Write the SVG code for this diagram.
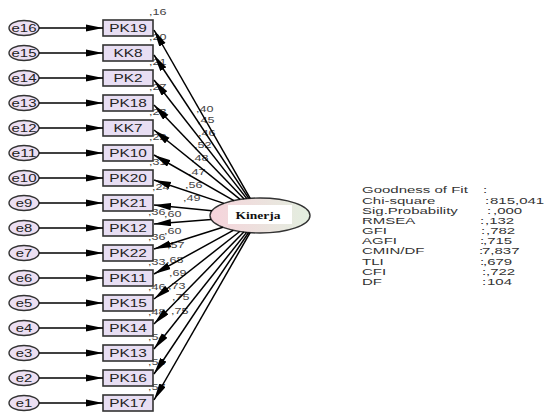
<svg xmlns="http://www.w3.org/2000/svg" width="546" height="412" viewBox="0 0 546 412">
<defs>
<marker id="ah" markerUnits="userSpaceOnUse" markerWidth="18" markerHeight="9" refX="17" refY="3.6" orient="auto"><path d="M0,0 L17,3.6 L0,7.2 z" fill="#000"/></marker>
<linearGradient id="kg" x1="0" y1="0" x2="1" y2="0"><stop offset="0" stop-color="#f6d3db"/><stop offset="1" stop-color="#e3efe0"/></linearGradient>
</defs>
<style>
.bx{fill:#e8def3;stroke:#333;stroke-width:1.6}
.ev{fill:#ecdff2;stroke:#333;stroke-width:1.4}
.bl{font-family:"Liberation Sans",Arial,sans-serif;font-size:11px;fill:#222;text-anchor:middle}
.el{font-family:"Liberation Sans",Arial,sans-serif;font-size:10px;fill:#222;text-anchor:middle}
.sm{font-family:"Liberation Sans",Arial,sans-serif;font-size:9px;fill:#444}
.ft{font-family:"Liberation Sans",Arial,sans-serif;font-size:9px;fill:#333}
.ln{stroke:#000;stroke-width:1.5;fill:none;marker-end:url(#ah)}
</style>
<rect width="546" height="412" fill="#fff"/>
<g id="n-PK19"><ellipse class="ev" cx="24" cy="28" rx="15" ry="7.5"/><text class="el" x="24" y="31.5" textLength="25" lengthAdjust="spacingAndGlyphs">e16</text><rect class="bx" x="103" y="20" width="50" height="16"/><text class="bl" x="128" y="32" textLength="37.7" lengthAdjust="spacingAndGlyphs">PK19</text><text class="sm" x="149" y="15" textLength="17.5" lengthAdjust="spacingAndGlyphs">,16</text></g>
<g id="n-KK8"><ellipse class="ev" cx="24" cy="53" rx="15" ry="7.5"/><text class="el" x="24" y="56.5" textLength="25" lengthAdjust="spacingAndGlyphs">e15</text><rect class="bx" x="103" y="45" width="50" height="16"/><text class="bl" x="128" y="57" textLength="29.1" lengthAdjust="spacingAndGlyphs">KK8</text><text class="sm" x="149" y="40" textLength="17.5" lengthAdjust="spacingAndGlyphs">,20</text></g>
<g id="n-PK2"><ellipse class="ev" cx="24" cy="78" rx="15" ry="7.5"/><text class="el" x="24" y="81.5" textLength="25" lengthAdjust="spacingAndGlyphs">e14</text><rect class="bx" x="103" y="70" width="50" height="16"/><text class="bl" x="128" y="82" textLength="29.1" lengthAdjust="spacingAndGlyphs">PK2</text><text class="sm" x="149" y="65" textLength="17.5" lengthAdjust="spacingAndGlyphs">,21</text></g>
<g id="n-PK18"><ellipse class="ev" cx="24" cy="103" rx="15" ry="7.5"/><text class="el" x="24" y="106.5" textLength="25" lengthAdjust="spacingAndGlyphs">e13</text><rect class="bx" x="103" y="95" width="50" height="16"/><text class="bl" x="128" y="107" textLength="37.7" lengthAdjust="spacingAndGlyphs">PK18</text><text class="sm" x="149" y="90" textLength="17.5" lengthAdjust="spacingAndGlyphs">,27</text></g>
<g id="n-KK7"><ellipse class="ev" cx="24" cy="128" rx="15" ry="7.5"/><text class="el" x="24" y="131.5" textLength="25" lengthAdjust="spacingAndGlyphs">e12</text><rect class="bx" x="103" y="120" width="50" height="16"/><text class="bl" x="128" y="132" textLength="29.1" lengthAdjust="spacingAndGlyphs">KK7</text><text class="sm" x="149" y="115" textLength="17.5" lengthAdjust="spacingAndGlyphs">,23</text></g>
<g id="n-PK10"><ellipse class="ev" cx="24" cy="153" rx="15" ry="7.5"/><text class="el" x="24" y="156.5" textLength="25" lengthAdjust="spacingAndGlyphs">e11</text><rect class="bx" x="103" y="145" width="50" height="16"/><text class="bl" x="128" y="157" textLength="37.7" lengthAdjust="spacingAndGlyphs">PK10</text><text class="sm" x="149" y="140" textLength="17.5" lengthAdjust="spacingAndGlyphs">,22</text></g>
<g id="n-PK20"><ellipse class="ev" cx="24" cy="178" rx="15" ry="7.5"/><text class="el" x="24" y="181.5" textLength="25" lengthAdjust="spacingAndGlyphs">e10</text><rect class="bx" x="103" y="170" width="50" height="16"/><text class="bl" x="128" y="182" textLength="37.7" lengthAdjust="spacingAndGlyphs">PK20</text><text class="sm" x="149" y="165" textLength="17.5" lengthAdjust="spacingAndGlyphs">,31</text></g>
<g id="n-PK21"><ellipse class="ev" cx="24" cy="203" rx="15" ry="7.5"/><text class="el" x="24" y="206.5" textLength="16.5" lengthAdjust="spacingAndGlyphs">e9</text><rect class="bx" x="103" y="195" width="50" height="16"/><text class="bl" x="128" y="207" textLength="37.7" lengthAdjust="spacingAndGlyphs">PK21</text><text class="sm" x="152" y="190" textLength="17.5" lengthAdjust="spacingAndGlyphs">,24</text></g>
<g id="n-PK12"><ellipse class="ev" cx="24" cy="228" rx="15" ry="7.5"/><text class="el" x="24" y="231.5" textLength="16.5" lengthAdjust="spacingAndGlyphs">e8</text><rect class="bx" x="103" y="220" width="50" height="16"/><text class="bl" x="128" y="232" textLength="37.7" lengthAdjust="spacingAndGlyphs">PK12</text><text class="sm" x="148" y="215" textLength="17.5" lengthAdjust="spacingAndGlyphs">,36</text></g>
<g id="n-PK22"><ellipse class="ev" cx="24" cy="253" rx="15" ry="7.5"/><text class="el" x="24" y="256.5" textLength="16.5" lengthAdjust="spacingAndGlyphs">e7</text><rect class="bx" x="103" y="245" width="50" height="16"/><text class="bl" x="128" y="257" textLength="37.7" lengthAdjust="spacingAndGlyphs">PK22</text><text class="sm" x="148" y="240" textLength="17.5" lengthAdjust="spacingAndGlyphs">,36</text></g>
<g id="n-PK11"><ellipse class="ev" cx="24" cy="278" rx="15" ry="7.5"/><text class="el" x="24" y="281.5" textLength="16.5" lengthAdjust="spacingAndGlyphs">e6</text><rect class="bx" x="103" y="270" width="50" height="16"/><text class="bl" x="128" y="282" textLength="37.7" lengthAdjust="spacingAndGlyphs">PK11</text><text class="sm" x="148" y="265" textLength="17.5" lengthAdjust="spacingAndGlyphs">,33</text></g>
<g id="n-PK15"><ellipse class="ev" cx="24" cy="303" rx="15" ry="7.5"/><text class="el" x="24" y="306.5" textLength="16.5" lengthAdjust="spacingAndGlyphs">e5</text><rect class="bx" x="103" y="295" width="50" height="16"/><text class="bl" x="128" y="307" textLength="37.7" lengthAdjust="spacingAndGlyphs">PK15</text><text class="sm" x="148" y="290" textLength="17.5" lengthAdjust="spacingAndGlyphs">,46</text></g>
<g id="n-PK14"><ellipse class="ev" cx="24" cy="328" rx="15" ry="7.5"/><text class="el" x="24" y="331.5" textLength="16.5" lengthAdjust="spacingAndGlyphs">e4</text><rect class="bx" x="103" y="320" width="50" height="16"/><text class="bl" x="128" y="332" textLength="37.7" lengthAdjust="spacingAndGlyphs">PK14</text><text class="sm" x="148" y="315" textLength="17.5" lengthAdjust="spacingAndGlyphs">,48</text></g>
<g id="n-PK13"><ellipse class="ev" cx="24" cy="353" rx="15" ry="7.5"/><text class="el" x="24" y="356.5" textLength="16.5" lengthAdjust="spacingAndGlyphs">e3</text><rect class="bx" x="103" y="345" width="50" height="16"/><text class="bl" x="128" y="357" textLength="37.7" lengthAdjust="spacingAndGlyphs">PK13</text><text class="sm" x="148" y="340" textLength="17.5" lengthAdjust="spacingAndGlyphs">,54</text></g>
<g id="n-PK16"><ellipse class="ev" cx="24" cy="378" rx="15" ry="7.5"/><text class="el" x="24" y="381.5" textLength="16.5" lengthAdjust="spacingAndGlyphs">e2</text><rect class="bx" x="103" y="370" width="50" height="16"/><text class="bl" x="128" y="382" textLength="37.7" lengthAdjust="spacingAndGlyphs">PK16</text><text class="sm" x="148" y="365" textLength="17.5" lengthAdjust="spacingAndGlyphs">,56</text></g>
<g id="n-PK17"><ellipse class="ev" cx="24" cy="403" rx="15" ry="7.5"/><text class="el" x="24" y="406.5" textLength="16.5" lengthAdjust="spacingAndGlyphs">e1</text><rect class="bx" x="103" y="395" width="50" height="16"/><text class="bl" x="128" y="407" textLength="37.7" lengthAdjust="spacingAndGlyphs">PK17</text><text class="sm" x="148" y="390" textLength="17.5" lengthAdjust="spacingAndGlyphs">,57</text></g>
<g id="n-Kinerja"><ellipse cx="260" cy="215.5" rx="50" ry="17.5" fill="url(#kg)" stroke="#333" stroke-width="1.4"/><rect x="228" y="205" width="64" height="19" fill="#fff"/><text x="258" y="219" font-family="'Liberation Serif','Times New Roman',serif" font-weight="bold" font-size="10" fill="#111" text-anchor="middle" textLength="45" lengthAdjust="spacingAndGlyphs">Kinerja</text></g>
<g id="loadings" class="sm">
<text x="196" y="112" textLength="17.5" lengthAdjust="spacingAndGlyphs">,40</text>
<text x="197" y="123" textLength="17.5" lengthAdjust="spacingAndGlyphs">,45</text>
<text x="198" y="136" textLength="17.5" lengthAdjust="spacingAndGlyphs">,46</text>
<text x="194" y="148" textLength="17.5" lengthAdjust="spacingAndGlyphs">,52</text>
<text x="191" y="161" textLength="17.5" lengthAdjust="spacingAndGlyphs">,48</text>
<text x="188" y="175" textLength="17.5" lengthAdjust="spacingAndGlyphs">,47</text>
<text x="185" y="188" textLength="17.5" lengthAdjust="spacingAndGlyphs">,56</text>
<text x="183" y="201" textLength="17.5" lengthAdjust="spacingAndGlyphs">,49</text>
<text x="164" y="217" textLength="17.5" lengthAdjust="spacingAndGlyphs">,60</text>
<text x="164" y="234" textLength="17.5" lengthAdjust="spacingAndGlyphs">,60</text>
<text x="167" y="248" textLength="17.5" lengthAdjust="spacingAndGlyphs">,57</text>
<text x="166" y="263" textLength="17.5" lengthAdjust="spacingAndGlyphs">,68</text>
<text x="169" y="276" textLength="17.5" lengthAdjust="spacingAndGlyphs">,69</text>
<text x="168" y="289" textLength="17.5" lengthAdjust="spacingAndGlyphs">,73</text>
<text x="172" y="300" textLength="17.5" lengthAdjust="spacingAndGlyphs">,75</text>
<text x="171" y="314" textLength="17.5" lengthAdjust="spacingAndGlyphs">,75</text>
</g>
<g id="connectors">
<line class="ln" x1="39" y1="28" x2="103" y2="28"/>
<line class="ln" x1="39" y1="53" x2="103" y2="53"/>
<line class="ln" x1="39" y1="78" x2="103" y2="78"/>
<line class="ln" x1="39" y1="103" x2="103" y2="103"/>
<line class="ln" x1="39" y1="128" x2="103" y2="128"/>
<line class="ln" x1="39" y1="153" x2="103" y2="153"/>
<line class="ln" x1="39" y1="178" x2="103" y2="178"/>
<line class="ln" x1="39" y1="203" x2="103" y2="203"/>
<line class="ln" x1="39" y1="228" x2="103" y2="228"/>
<line class="ln" x1="39" y1="253" x2="103" y2="253"/>
<line class="ln" x1="39" y1="278" x2="103" y2="278"/>
<line class="ln" x1="39" y1="303" x2="103" y2="303"/>
<line class="ln" x1="39" y1="328" x2="103" y2="328"/>
<line class="ln" x1="39" y1="353" x2="103" y2="353"/>
<line class="ln" x1="39" y1="378" x2="103" y2="378"/>
<line class="ln" x1="39" y1="403" x2="103" y2="403"/>
<line class="ln" x1="250.2" y1="198.3" x2="154" y2="30"/>
<line class="ln" x1="248.7" y1="198.4" x2="154" y2="55"/>
<line class="ln" x1="246.8" y1="198.6" x2="154" y2="80"/>
<line class="ln" x1="244.1" y1="198.9" x2="154" y2="105"/>
<line class="ln" x1="240.1" y1="199.4" x2="154" y2="130"/>
<line class="ln" x1="233.9" y1="200.6" x2="154" y2="155"/>
<line class="ln" x1="223.9" y1="203.4" x2="154" y2="180"/>
<line class="ln" x1="211.9" y1="210.7" x2="154" y2="205"/>
<line class="ln" x1="211.3" y1="219.4" x2="154" y2="224"/>
<line class="ln" x1="222.9" y1="227.2" x2="154" y2="249"/>
<line class="ln" x1="233.2" y1="230.3" x2="154" y2="274"/>
<line class="ln" x1="239.7" y1="231.5" x2="154" y2="299"/>
<line class="ln" x1="243.8" y1="232.1" x2="154" y2="324"/>
<line class="ln" x1="246.6" y1="232.4" x2="154" y2="349"/>
<line class="ln" x1="248.6" y1="232.5" x2="154" y2="374"/>
<line class="ln" x1="250.1" y1="232.7" x2="154" y2="400"/>
</g>
<g id="fit" class="ft" transform="translate(362 0) scale(1.667 1)">
<text x="0" y="193.5">Goodness of Fit</text><text x="72.6" y="193.5">:</text>
<text x="0" y="203.7">Chi-square</text><text x="73.8" y="203.7">:</text><text x="76.8" y="203.7">815,041</text>
<text x="0" y="213.8">Sig.Probability</text><text x="75" y="213.8">:</text><text x="78.6" y="213.8">,000</text>
<text x="0" y="224">RMSEA</text><text x="70.8" y="224">:</text><text x="73.8" y="224">,132</text>
<text x="0" y="234.1">GFI</text><text x="71.4" y="234.1">:</text><text x="74.4" y="234.1">,782</text>
<text x="0" y="244.3">AGFI</text><text x="70.8" y="244.3">:</text><text x="72.6" y="244.3">,715</text>
<text x="0" y="254.4">CMIN/DF</text><text x="70.2" y="254.4">:</text><text x="72" y="254.4">7,837</text>
<text x="0" y="264.6">TLI</text><text x="70.8" y="264.6">:</text><text x="72.6" y="264.6">,679</text>
<text x="0" y="274.7">CFI</text><text x="72" y="274.7">:</text><text x="74.4" y="274.7">,722</text>
<text x="0" y="284.9">DF</text><text x="72" y="284.9">:</text><text x="75" y="284.9">104</text>
</g>
</svg>
